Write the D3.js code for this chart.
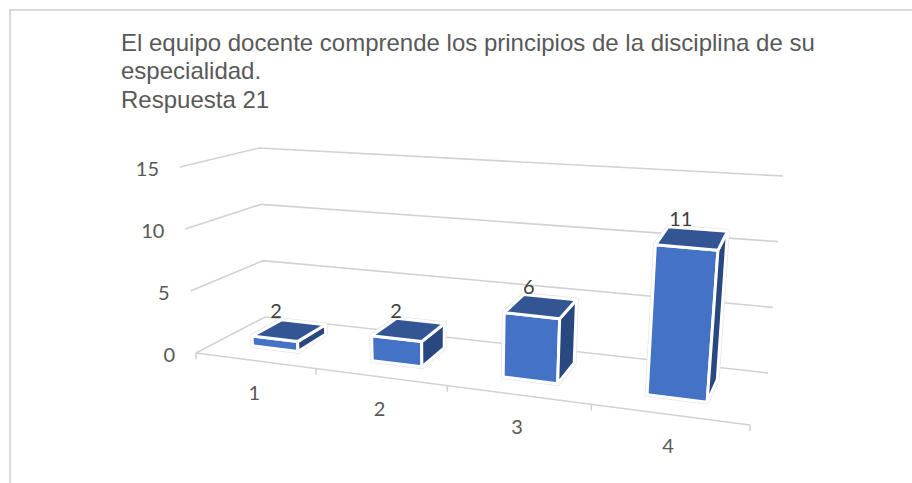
<!DOCTYPE html>
<html><head><meta charset="utf-8">
<script src="https://cdnjs.cloudflare.com/ajax/libs/d3/7.8.5/d3.min.js"></script>
<style>html,body{margin:0;padding:0;background:#fff;overflow:hidden}svg{display:block}</style>
</head><body><svg id="c" width="912" height="483"></svg>
<script>
const titleLines = ["El equipo docente comprende los principios de la disciplina de su","especialidad.","Respuesta 21"];
const categories = ["1","2","3","4"];
const dataLabels = [2,2,6,11];
// Heights as the bars are actually drawn in the picture (they differ from their printed labels)
const drawnHeights = [0.8,2,5,11.3];
const valueTicks = [0,5,10,15];

const svg = d3.select("#c");

// projected corners of the 3D plot box: [front/back][left/right][bottom/top]
const box = {
  fl0:[196,353], fr0:[750,425], bl0:[265,317], br0:[768,373],
  fl1:[180,167], fr1:[768,218], bl1:[259,148], br1:[783,176]
};
const lerp=(a,b,t)=>[a[0]+(b[0]-a[0])*t,a[1]+(b[1]-a[1])*t];
const persp=u=>0.83*u/(1-0.17*u);
const vScale=d3.scaleLinear().domain([0,15]).range([0,1]);
const xScale=d3.scaleBand().domain(categories).range([0,1]).paddingInner(0.61).paddingOuter(0.305);
const zScale=d3.scaleLinear().domain([0,1]).range([0.32,0.77]);
function project(u,val,w){
  const t=persp(u),v=vScale(val);
  const f0=lerp(box.fl0,box.fr0,t),f1=lerp(box.fl1,box.fr1,t);
  const b0=lerp(box.bl0,box.br0,t),b1=lerp(box.bl1,box.br1,t);
  return lerp(lerp(f0,b0,w),lerp(f1,b1,w),v);
}
const line=d3.line();

// chart frame: only the top and left edges fall inside the picture
svg.append("path").attr("d",line([[10,483],[10,10],[912,10]]))
  .attr("fill","none").attr("stroke","#d9d9d9").attr("stroke-width",2);

// title
const titleY=[51,79,108];
svg.append("g").selectAll("text").data(titleLines).join("text")
  .attr("x",121).attr("y",(d,i)=>titleY[i])
  .attr("font-family","'Liberation Sans',Arial,sans-serif").attr("font-size",24)
  .attr("fill","#595959").text(d=>d);

// gridlines
const grid=svg.append("g").attr("fill","none").attr("stroke","#d2d2d2").attr("stroke-width",1.6);
grid.selectAll("path").data(valueTicks).join("path")
  .attr("d",v=>line([project(0,v,0),project(0,v,1),project(1,v,1)]));

// floor front axis + ticks
const axisG=svg.append("g").attr("fill","none").attr("stroke","#d2d2d2").attr("stroke-width",1.6);
axisG.append("path").attr("d",line([project(0,0,0),project(1,0,0)]));
axisG.selectAll("path.t").data(d3.range(categories.length+1)).join("path").attr("class","t")
  .attr("d",i=>{const p=project(i/categories.length,0,0);return line([p,[p[0],p[1]+6]]);});

// value labels
const lab="Lato,'Open Sans',sans-serif";
svg.append("g").selectAll("text").data(valueTicks).join("text")
  .attr("x",v=>project(0,v,0)[0]-21).attr("y",v=>project(0,v,0)[1]+1)
  .attr("text-anchor","end").attr("dominant-baseline","central")
  .attr("font-family",lab).attr("font-size",20).attr("fill","#595959").text(d=>d);

// category labels
svg.append("g").selectAll("text").data(categories).join("text")
  .attr("x",c=>project(xScale(c)+xScale.bandwidth()/2,0,0)[0]-0.5)
  .attr("y",c=>project(xScale(c)+xScale.bandwidth()/2,0,0)[1]+31)
  .attr("text-anchor","middle").attr("dominant-baseline","central")
  .attr("font-family",lab).attr("font-size",20).attr("fill","#595959").text(d=>d);

// bars
const bars=categories.map((c,i)=>({c,h:drawnHeights[i],label:dataLabels[i]}));
const faces=d=>{
  const a=xScale(d.c),b=a+xScale.bandwidth(),z0=zScale(0),z1=zScale(1);
  return {
    front:[project(a,0,z0),project(b,0,z0),project(b,d.h,z0),project(a,d.h,z0)],
    right:[project(b,0,z0),project(b,0,z1),project(b,d.h,z1),project(b,d.h,z0)],
    top:[project(a,d.h,z0),project(b,d.h,z0),project(b,d.h,z1),project(a,d.h,z1)]
  };
};
const colors={front:"#4472c4",right:"#2a4880",top:"#335593"};
const barG=svg.append("g").selectAll("g").data(bars).join("g");
barG.each(function(d){
  const g=d3.select(this),f=faces(d);
  ["front","right","top"].forEach(k=>g.append("path").attr("d",line(f[k])+"Z")
     .attr("fill","none").attr("stroke","#e6e6e6").attr("stroke-width",4.6).attr("stroke-linejoin","round"));
  ["front","right","top"].forEach(k=>g.append("path").attr("d",line(f[k])+"Z")
     .attr("fill",colors[k]).attr("stroke","#fff").attr("stroke-width",3).attr("stroke-linejoin","round"));
});

// data labels
svg.append("g").selectAll("text").data(bars).join("text")
  .attr("x",d=>project(xScale(d.c)+xScale.bandwidth()/2,d.h,0.5)[0]-10)
  .attr("y",d=>project(xScale(d.c)+xScale.bandwidth()/2,d.h,0.5)[1]-22)
  .attr("text-anchor","middle").attr("dominant-baseline","central")
  .attr("font-family",lab).attr("font-size",20).attr("fill","#404040").text(d=>d.label);
</script></body></html>
